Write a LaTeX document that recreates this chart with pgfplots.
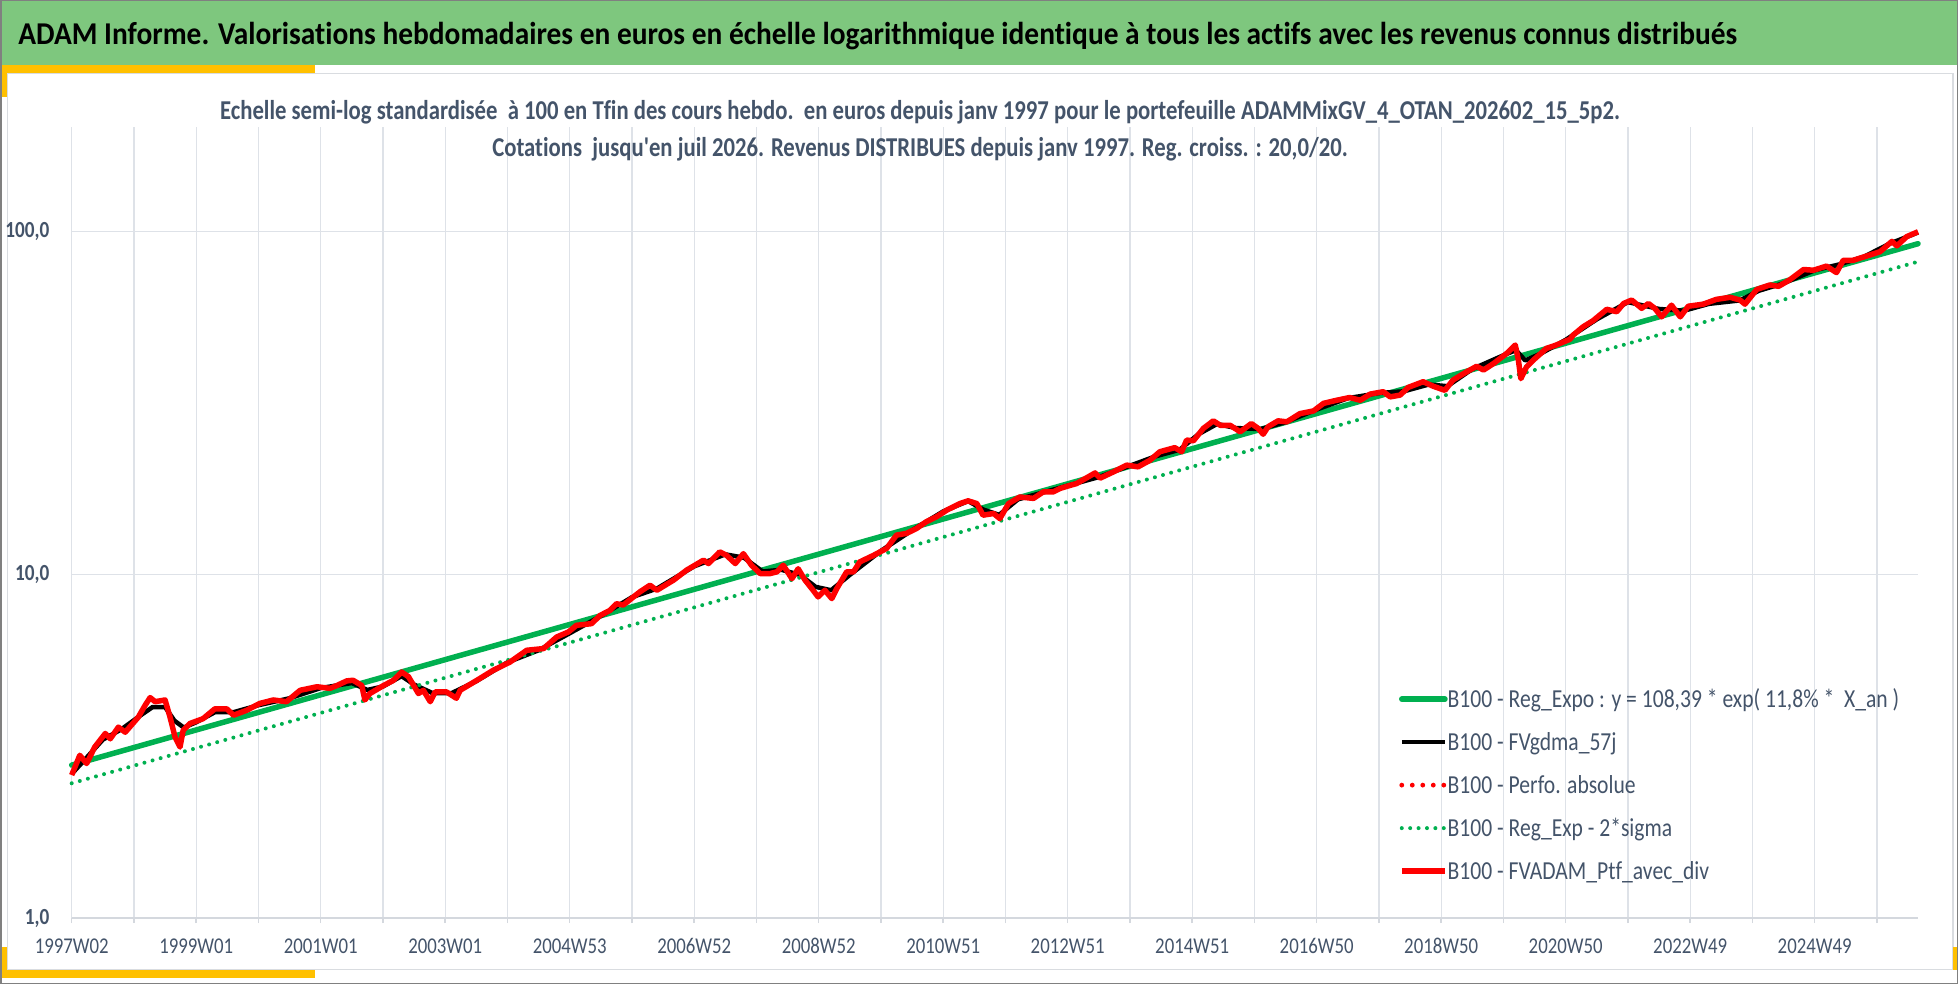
\documentclass[border=0pt]{standalone}
\usepackage{pgfplots}
\pgfplotsset{compat=1.18}
\usepackage{pgfplotstable}
\usepackage{fontspec}
\setmainfont{Carlito}[Ligatures={NoCommon}]
\usepackage{graphicx}
\definecolor{tgreen}{RGB}{126,199,126}
\definecolor{ygold}{RGB}{255,192,0}
\definecolor{slate}{RGB}{68,84,106}
\definecolor{gridc}{RGB}{222,226,232}
\definecolor{axc}{RGB}{212,216,222}
\definecolor{xgreen}{RGB}{0,176,80}
\definecolor{panel}{RGB}{217,220,224}
\definecolor{outerc}{RGB}{128,128,128}
\newcommand{\vs}[1]{\scalebox{1}[1.2]{#1}}

\pgfplotstableread{
u v
0.00 2.61
0.13 2.98
0.24 2.82
0.37 3.15
0.54 3.45
0.62 3.33
0.75 3.60
0.86 3.48
1.07 3.85
1.18 4.17
1.26 4.39
1.34 4.27
1.50 4.32
1.58 3.85
1.66 3.37
1.74 3.15
1.79 3.52
1.90 3.69
2.11 3.81
2.30 4.07
2.49 4.07
2.60 3.90
2.81 4.03
3.02 4.22
3.24 4.32
3.45 4.27
3.67 4.61
3.94 4.72
4.15 4.67
4.26 4.76
4.42 4.91
4.52 4.93
4.66 4.76
4.71 4.32
4.79 4.51
5.01 4.76
5.17 4.93
5.30 5.21
5.41 5.05
5.57 4.51
5.65 4.61
5.76 4.27
5.84 4.56
6.02 4.56
6.18 4.37
6.24 4.61
6.51 4.93
6.77 5.27
7.04 5.57
7.31 6.03
7.58 6.10
7.79 6.59
7.98 6.82
8.11 7.13
8.35 7.21
8.49 7.62
8.65 7.89
8.75 8.24
8.86 8.17
9.13 8.93
9.29 9.33
9.40 9.02
9.67 9.66
9.88 10.33
10.15 11.04
10.23 10.79
10.41 11.67
10.52 11.40
10.66 10.79
10.79 11.53
10.92 10.67
11.06 10.09
11.22 10.09
11.33 10.21
11.43 10.67
11.57 9.75
11.67 10.42
11.78 9.66
11.91 9.02
11.99 8.63
12.10 9.02
12.21 8.53
12.29 9.12
12.45 10.21
12.56 10.21
12.66 10.91
12.88 11.40
13.09 11.94
13.25 13.06
13.41 13.21
13.57 13.65
13.73 14.29
13.89 14.76
14.06 15.45
14.27 16.14
14.40 16.44
14.54 16.14
14.64 14.93
14.81 15.10
14.91 14.59
15.05 16.14
15.23 16.87
15.45 16.71
15.61 17.46
15.77 17.46
15.88 17.87
16.04 18.24
16.14 18.45
16.44 19.82
16.52 19.14
16.73 19.95
16.95 20.89
17.13 20.65
17.32 21.57
17.48 22.85
17.72 23.49
17.83 22.85
17.91 24.71
18.02 24.60
18.18 26.73
18.34 28.12
18.45 27.29
18.61 27.29
18.77 26.12
18.95 27.61
19.06 26.73
19.14 25.70
19.22 27.04
19.38 28.12
19.52 27.93
19.73 29.51
19.95 30.06
20.11 31.62
20.32 32.28
20.53 32.88
20.70 32.28
20.86 33.65
21.07 34.19
21.18 33.03
21.34 33.42
21.47 35.19
21.71 36.56
21.87 35.48
22.06 34.51
22.19 36.98
22.41 39.08
22.57 40.55
22.68 39.54
22.84 41.30
23.05 44.16
23.19 46.77
23.24 42.27
23.28 37.32
23.37 40.36
23.48 42.27
23.69 45.71
23.85 46.77
24.07 48.64
24.12 50.00
24.28 52.85
24.44 55.08
24.66 59.43
24.82 58.48
24.93 61.80
25.06 63.24
25.22 59.84
25.33 61.80
25.43 59.84
25.54 56.50
25.70 61.10
25.84 56.50
25.97 60.68
26.21 61.52
26.42 63.53
26.64 64.42
26.80 63.24
26.88 61.52
27.07 67.93
27.28 69.99
27.42 69.35
27.60 72.45
27.82 77.63
27.98 77.27
28.19 79.43
28.35 76.04
28.46 82.60
28.62 82.60
28.83 84.92
29.05 87.49
29.24 93.75
29.32 90.99
29.48 96.83
29.66 100.0
}\redtab

\pgfplotstableread{
u v
0.00 2.63
0.20 2.88
0.50 3.31
0.80 3.55
1.10 3.89
1.30 4.12
1.50 4.12
1.65 3.76
1.80 3.59
2.00 3.72
2.30 3.98
2.60 3.98
3.00 4.17
3.50 4.37
4.00 4.68
4.50 4.84
4.75 4.62
5.00 4.73
5.30 5.07
5.50 4.79
5.80 4.52
6.10 4.52
6.50 4.90
7.00 5.56
7.50 6.03
8.00 6.76
8.50 7.59
9.00 8.61
9.40 9.12
10.00 10.59
10.50 11.48
10.80 11.22
11.10 10.23
11.40 10.35
11.70 10.00
11.95 9.23
12.20 9.02
12.50 10.00
13.00 11.75
13.50 13.49
14.00 15.31
14.40 16.41
14.65 15.49
14.90 14.96
15.20 16.60
15.60 17.38
16.00 18.20
16.50 19.28
17.00 20.80
17.40 22.13
17.80 23.17
18.10 25.70
18.40 27.54
18.70 26.79
19.10 26.61
19.50 27.86
20.00 30.34
20.50 32.73
21.00 33.88
21.40 34.28
21.80 35.89
22.10 35.48
22.50 39.81
23.00 43.65
23.20 45.19
23.35 42.17
23.60 44.16
24.00 48.42
24.50 55.59
25.00 62.37
25.50 59.57
25.90 58.88
26.30 61.66
26.80 63.10
27.10 67.30
27.50 70.79
28.00 77.27
28.40 80.35
28.80 84.72
29.20 92.26
29.66 99.54
}\blacktab

\begin{document}
\begin{tikzpicture}
\useasboundingbox (0,0) rectangle (979pt,-492pt);
\begin{scope}[x=0.5pt,y=-0.5pt]
 \fill[white] (0,0) rectangle (1958,984);
 \fill[tgreen] (0,0) rectangle (1958,65);
 \draw[panel, line width=0.75pt] (7.5,73.5) rectangle (1953,969.5);
 \fill[ygold] (0,65) rectangle (315,73);
 \fill[ygold] (0,65) rectangle (7,97);
 \fill[ygold] (0,970) rectangle (315,978);
 \fill[ygold] (0,947) rectangle (7,978);
 \fill[ygold] (1953,947) rectangle (1958,970);
\end{scope}
\begin{axis}[
 at={(35.85pt,-459pt)}, anchor=south west,
 scale only axis, width=923.15pt, height=395.5pt,
 xmin=0, xmax=29.66,
 ymode=log, ymin=1, ymax=202,
 axis x line*=bottom, axis y line*=left,
 x axis line style={-, draw=axc, line width=0.75pt},
 y axis line style={-, draw=none},
 xtick={0,2,...,28},
 minor xtick={1,3,...,29},
 xticklabels={\vs{1997W02},\vs{1999W01},\vs{2001W01},\vs{2003W01},\vs{2004W53},\vs{2006W52},\vs{2008W52},\vs{2010W51},\vs{2012W51},\vs{2014W51},\vs{2016W50},\vs{2018W50},\vs{2020W50},\vs{2022W49},\vs{2024W49}},
 ytick={1,10,100},
 yticklabels={{\vs{\textbf{1,0}}},{\vs{\textbf{10,0}}},{\vs{\textbf{100,0}}}},
 yminorticks=false,
 xmajorgrids, xminorgrids, ymajorgrids,
 major grid style={draw=gridc, line width=0.6pt},
 minor grid style={draw=gridc, line width=0.6pt},
 tick align=outside,
 major tick length=2.5pt, minor tick length=2.5pt,
 xtick style={draw=axc, line width=0.75pt},
 every minor tick/.append style={draw=axc, line width=0.75pt},
 ytick style={draw=none},
 xticklabel style={font=\fontsize{9.4pt}{10pt}\selectfont, text=slate, anchor=base, inner sep=0pt, yshift=-15pt},
 yticklabel style={font=\fontsize{9.6pt}{10pt}\selectfont, text=slate, anchor=east, inner sep=0pt, xshift=-8.5pt},
 clip=false,
 legend cell align=left,
 legend style={at={(axis description cs:0.7189,0.168)}, anchor=west, draw=none, fill=none,
   inner sep=0pt, outer sep=0pt, row sep=13.15pt,
   font=\fontsize{10.8pt}{12pt}\selectfont, text=slate,
   nodes={inner sep=0pt, text height=8.35pt, text depth=0pt},
   /tikz/every even column/.append style={column sep=3pt}},
 legend image code/.code={\draw[#1] (1.2pt,0pt) -- (22.8pt,0pt);},
]
\addplot[xgreen, line width=2.75pt, line cap=round] coordinates {(0,2.79) (29.66,92.3)};
\addlegendentry{\vs{B100 - Reg\_Expo : y = 108,39 * exp( 11,8\% *\ \ X\_an )}}
\addplot[black, line width=2.25pt, line join=round] table[x=u,y=v] {\blacktab};
\addlegendentry{\vs{B100 - FVgdma\_57j}}
\addlegendimage{red, line width=2.4pt, line cap=round, dash pattern=on 0pt off 5.25pt}
\addlegendentry{\vs{B100 - Perfo. absolue}}
\addplot[xgreen, line width=2pt, line cap=round, dash pattern=on 0pt off 4.2pt] coordinates {(0,2.47) (29.66,81.8)};
\addlegendentry{\vs{B100 - Reg\_Exp - 2*sigma}}
\addplot[red, line width=2.75pt, line join=round] table[x=u,y=v] {\redtab};
\addlegendentry{\vs{B100 - FVADAM\_Ptf\_avec\_div}}
\end{axis}
\begin{scope}[x=0.5pt,y=-0.5pt]
 \node[anchor=base west, inner sep=0pt] at (18,45) {\fontsize{14.7pt}{16pt}\selectfont\bfseries\scalebox{1}[1.08]{ADAM Informe. Valorisations hebdomadaires en euros en échelle logarithmique identique à tous les actifs avec les revenus connus distribués}};
 \node[anchor=base, inner sep=0pt, text=slate] at (920,120) {\fontsize{11.35pt}{13pt}\selectfont\bfseries\vs{Echelle semi-log standardisée\ \ à 100 en Tfin des cours hebdo.\ \ en euros depuis janv 1997 pour le portefeuille ADAMMixGV\_4\_OTAN\_202602\_15\_5p2.}};
 \node[anchor=base, inner sep=0pt, text=slate] at (920,157) {\fontsize{11.35pt}{13pt}\selectfont\bfseries\vs{Cotations\ \ jusqu\textquotesingle en juil 2026. Revenus DISTRIBUES depuis janv 1997. Reg. croiss. : 20,0/20.}};
 \draw[outerc, line width=0.75pt] (0.75,0.75) rectangle (1957.25,983.25);
\end{scope}
\end{tikzpicture}
\end{document}
